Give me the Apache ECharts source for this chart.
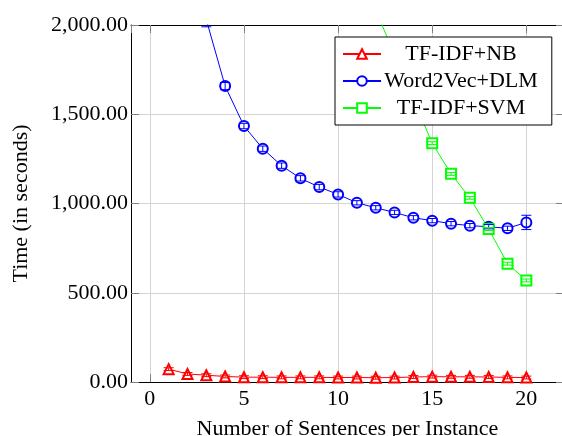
<!DOCTYPE html>
<html>
<head>
<meta charset="utf-8">
<script src="https://cdn.jsdelivr.net/npm/echarts@6/dist/echarts.min.js"></script>
<style>
  html, body { margin: 0; padding: 0; background: #fff; }
  #chart { width: 562px; height: 436px; }
</style>
</head>
<body>
<div id="chart"></div>
<script>
// ---- Data ----
const nbX   = [1, 2, 3, 4, 5, 6, 7, 8, 9, 10, 11, 12, 13, 14, 15, 16, 17, 18, 19, 20];
const nbY   = [72, 45, 38, 31, 27, 27, 26, 26, 26, 25, 25, 24, 25, 28, 30, 29, 29, 28, 26, 25];
const nbErr = [8, 8, 8, 8, 8, 8, 8, 8, 8, 8, 8, 8, 8, 8, 8, 8, 8, 8, 8, 8];

const dlmX   = [3, 4, 5, 6, 7, 8, 9, 10, 11, 12, 13, 14, 15, 16, 17, 18, 19, 20];
const dlmY   = [2030, 1658, 1434, 1307, 1212, 1141, 1092, 1051, 1004, 976, 950, 920, 904, 887, 876, 870, 861, 894];
const dlmErr = [40, 20, 15, 15, 15, 15, 15, 15, 12, 12, 12, 12, 12, 12, 12, 12, 12, 40];

const svmX   = [12, 13, 14, 15, 16, 17, 18, 19, 20];
const svmY   = [2083, 1834, 1585, 1338, 1166, 1032, 857, 663, 569];
const svmErr = [8, 8, 8, 8, 8, 8, 8, 8, 8];

const seriesNames = ['TF-IDF+NB', 'Word2Vec+DLM', 'TF-IDF+SVM'];
const yTicks = [0, 500, 1000, 1500, 2000];
const xTitle = 'Number of Sentences per Instance';
const yTitle = 'Time (in seconds)';

const FONT = 'Liberation Serif';
const RED = '#ff0000', BLUE = '#0000ff', GREEN = '#00ff00';

function pts(xs, ys) { return xs.map((x, i) => [x, ys[i]]); }
function errPts(xs, ys, es) { return xs.map((x, i) => [x, ys[i], es[i]]); }

function fmt(v) {
  const s = Math.abs(v).toFixed(2);
  const parts = s.split('.');
  const withComma = parts[0].replace(/\B(?=(\d{3})+(?!\d))/g, ',');
  return (v < 0 ? '-' : '') + withComma + '.' + parts[1];
}

function errSeries(name, data, color) {
  return {
    type: 'custom',
    name: name,
    clip: true,
    silent: true,
    z: 3,
    data: data,
    renderItem: function (params, api) {
      const x = api.value(0), y = api.value(1), e = api.value(2);
      const top = api.coord([x, y + e]);
      const bot = api.coord([x, y - e]);
      const hw = 5;
      const st = { stroke: color, lineWidth: 1, fill: null };
      return {
        type: 'group',
        children: [
          { type: 'line', shape: { x1: top[0], y1: top[1], x2: bot[0], y2: bot[1] }, style: st },
          { type: 'line', shape: { x1: top[0] - hw, y1: top[1], x2: top[0] + hw, y2: top[1] }, style: st },
          { type: 'line', shape: { x1: bot[0] - hw, y1: bot[1], x2: bot[0] + hw, y2: bot[1] }, style: st }
        ]
      };
    }
  };
}

function lineSeries(name, data, color, symbol) {
  return {
    type: 'line',
    name: name,
    data: data,
    clip: true,
    symbol: symbol,
    symbolSize: 10,
    showAllSymbol: true,
    lineStyle: { color: color, width: 1 },
    itemStyle: { color: color, borderColor: color, borderWidth: 1 },
    z: 2
  };
}

const axisLabelFont = { fontFamily: FONT, fontSize: 22, color: '#000' };
const gridLine = { show: true, lineStyle: { color: '#d4d4d4', width: 1 } };
const tick = { show: true, inside: true, length: 8, lineStyle: { color: '#808080', width: 1 } };
const axLine = { show: true, onZero: false, lineStyle: { color: '#000', width: 1 } };

const chart = echarts.init(document.getElementById('chart'), null, { renderer: 'canvas' });
chart.setOption({
  animation: false,
  backgroundColor: '#fff',
  grid: { left: 131, top: 25, width: 433, height: 357, containLabel: false, outerBoundsMode: 'none' },
  legend: {
    data: seriesNames,
    orient: 'vertical',
    left: 335,
    top: 37,
    itemWidth: 38,
    itemHeight: 12,
    itemGap: 5,
    padding: [6, 14, 6, 7],
    borderColor: '#000',
    borderWidth: 1,
    backgroundColor: '#fff',
    selectedMode: false,
    formatter: function (n) { return '{c|' + n + '}'; },
    textStyle: {
      fontFamily: FONT, fontSize: 22, color: '#000',
      rich: { c: { width: 150, align: 'center', fontFamily: FONT, fontSize: 22, lineHeight: 22, color: '#000' } }
    }
  },
  xAxis: [
    {
      type: 'value', min: -1, max: 22, position: 'bottom',
      axisLine: axLine, axisTick: tick, splitLine: gridLine,
      axisLabel: Object.assign({ margin: 6, showMinLabel: false, showMaxLabel: false }, axisLabelFont),
      name: xTitle, nameLocation: 'middle', nameGap: 36,
      nameTextStyle: { fontFamily: FONT, fontSize: 22, color: '#000' }
    },
    {
      type: 'value', min: -1, max: 22, position: 'top',
      axisLine: axLine, axisTick: tick, splitLine: { show: false },
      axisLabel: { show: false }
    }
  ],
  yAxis: [
    {
      type: 'value', min: yTicks[0], max: yTicks[yTicks.length - 1], interval: yTicks[1] - yTicks[0],
      position: 'left',
      axisLine: axLine, axisTick: tick, splitLine: gridLine,
      axisLabel: Object.assign({ margin: 3, formatter: fmt }, axisLabelFont),
      name: yTitle, nameLocation: 'middle', nameGap: 99,
      nameTextStyle: { fontFamily: FONT, fontSize: 22, color: '#000' }
    },
    {
      type: 'value', min: yTicks[0], max: yTicks[yTicks.length - 1], interval: yTicks[1] - yTicks[0],
      position: 'right',
      axisLine: axLine, axisTick: tick, splitLine: { show: false },
      axisLabel: { show: false }
    }
  ],
  series: [
    lineSeries(seriesNames[0], pts(nbX, nbY), RED, 'emptyTriangle'),
    lineSeries(seriesNames[1], pts(dlmX, dlmY), BLUE, 'emptyCircle'),
    lineSeries(seriesNames[2], pts(svmX, svmY), GREEN, 'emptyRect'),
    errSeries('err-nb', errPts(nbX, nbY, nbErr), RED),
    errSeries('err-dlm', errPts(dlmX, dlmY, dlmErr), BLUE),
    errSeries('err-svm', errPts(svmX, svmY, svmErr), GREEN)
  ]
});
</script>
</body>
</html>
